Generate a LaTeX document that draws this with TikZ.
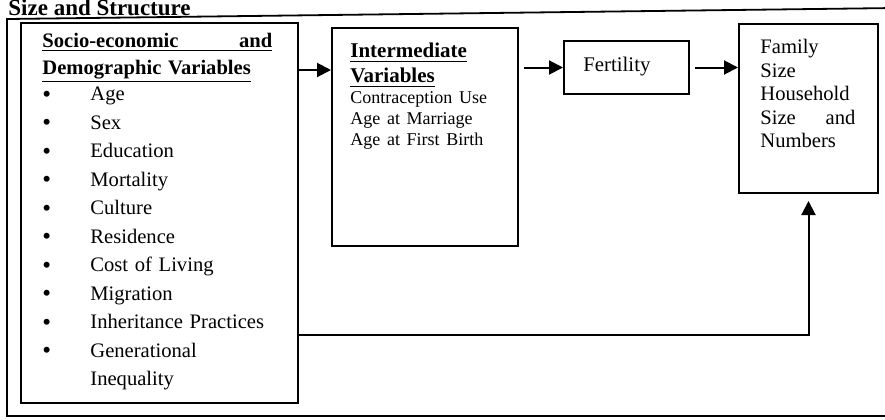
\documentclass[tikz,border=0pt]{standalone}
\usepackage{fontspec}
\setmainfont{Liberation Serif}
\usetikzlibrary{arrows.meta}
\begin{document}
\begin{tikzpicture}[x=0.5pt,y=-0.5pt,
  box/.style={draw, line width=1pt, inner sep=0pt, anchor=north west},
  frame/.style={draw, line width=0.9pt},
  arr/.style={line width=1pt, -{Triangle[length=7pt,width=7pt]}},
  txt/.style={inner sep=0pt, anchor=north west, align=left}]
\useasboundingbox (0,0) rectangle (885,419);
% title
\node[inner sep=0pt, anchor=base west, font=\bfseries\fontsize{11.5}{13}\selectfont] (title) at (8,15.5) {Size and Structure};
% outer frame
\coordinate (ftr) at (895,8);
\coordinate (ftl) at (7,19);
\coordinate (fbl) at (7,416);
\coordinate (fbr) at (895,416);
\draw[frame] (ftr) -- (ftl) -- (fbl) -- (fbr);
% boxes
\node[box, minimum width=138.5pt, minimum height=190pt] (soc) at (20,22) {};
\node[box, minimum width=93pt, minimum height=109pt] (inter) at (331,27) {};
\node[box, minimum width=62.5pt, minimum height=26.5pt] (fert) at (563,40) {};
\node[box, minimum width=69.5pt, minimum height=84.5pt] (fam) at (738,23) {};
% texts
\newcommand{\bitem}[1]{\makebox[24pt][l]{\raisebox{-0.9pt}{\fontsize{12.5}{13}\selectfont\textbullet}}#1\par}
\node[txt, text width=118pt] (soctext) at (42,33) {%
  {\bfseries\fontsize{10.3}{13.25}\selectfont
   \underline{\makebox[115pt][s]{Socio-economic\hfill and}}\par
   \underline{Demographic Variables}\par}%
  {\fontsize{10.3}{13.25}\selectfont\bitem{Age}}%
  {\fontsize{10.3}{14.25}\selectfont
   \bitem{Sex}
   \bitem{Education}
   \bitem{Mortality}
   \bitem{Culture}
   \bitem{Residence}
   \bitem{Cost of Living}
   \bitem{Migration}
   \bitem{Inheritance Practices}
   \bitem{Generational}
   \makebox[24pt][l]{}Inequality\par}};
\node[txt, text width=85pt] (intertext) at (350,43) {%
  {\bfseries\fontsize{10.5}{12.5}\selectfont
   \underline{Intermediate}\par
   \underline{Variables}\par}%
  {\fontsize{9}{10.5}\selectfont
   Contraception Use\par
   Age at Marriage\par
   Age at First Birth\par}};
\node[inner sep=0pt, anchor=base west, font=\fontsize{10.4}{12}\selectfont] (ferttext) at (583,71) {Fertility};
\node[txt, text width=47.5pt, font=\fontsize{10.3}{11.75}\selectfont] (famtext) at (760,39) {%
  Family\par
  Size\par
  Household\par
  \makebox[47.5pt][s]{Size\hfill and}\par
  Numbers\par};
% connectors
\draw[arr] (soc.east |- 0,70) -- (inter.west |- 0,70);
\draw[arr, shorten <=2.5pt] (inter.east |- fert.west) -- (fert.west);
\draw[arr, shorten <=2.5pt] (fert.east) -- (fam.west |- fert.east);
\draw[arr, shorten >=3.5pt] (soc.east |- 0,335) -| (fam.south);
\end{tikzpicture}
\end{document}
